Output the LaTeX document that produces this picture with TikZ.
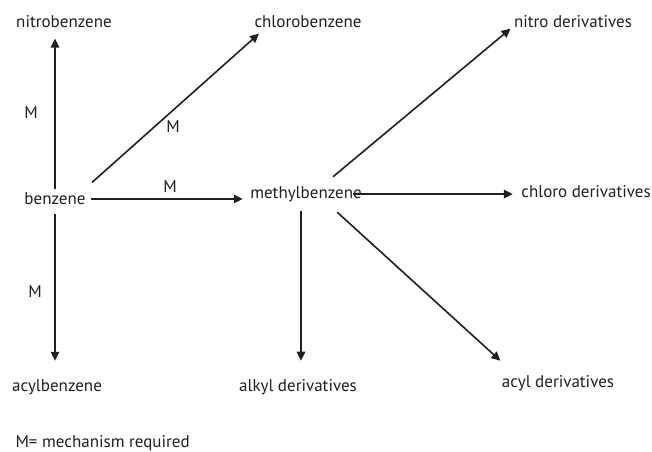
\documentclass[tikz,border=0pt]{standalone}
\usepackage{fontspec}
\setmainfont{PT Sans}
\usetikzlibrary{arrows.meta}
\definecolor{ink}{HTML}{231F20}
\begin{document}
\begin{tikzpicture}[x=1pt,y=-1pt,
        every node/.style={text=ink,font=\fontsize{17}{20}\selectfont},
        arr/.style={draw=ink,line width=1.6pt,-{Triangle[length=9pt,width=8.5pt]}}]
        \useasboundingbox (0,0) rectangle (652,451);

        \node (nitro) at (64,22) {nitrobenzene};
        \node (chloro) at (308,22) {chlorobenzene};
        \node (nitroder) at (573,22) {nitro derivatives};
        \node (benz) at (55,199) {benzene};
        \node (methyl) at (306,194) {methylbenzene};
        \node (chloroder) at (586,192) {chloro derivatives};
        \node (acyl) at (57,387) {acylbenzene};
        \node (alkyl) at (298,387) {alkyl derivatives};
        \node (acylder) at (558,383) {acyl derivatives};

        \node (m1) at (31,113) {M};
        \node (m2) at (173,127) {M};
        \node (m3) at (170,187) {M};
        \node (m4) at (35,292) {M};
        \node[anchor=west] (legend) at (12,443) {M= mechanism required};

        \draw[arr] (benz.north) -- ([yshift=-7pt]benz.north |- nitro.south);
        \draw[arr,shorten <=5pt] (benz.south) -- ([yshift=15pt]benz.south |- acyl.north);
        \draw[arr] ([xshift=2pt]benz.east) -- ([xshift=-4pt]benz.east -| methyl.west);
        \draw[arr] ([xshift=3pt,yshift=7pt]benz.north east) -- ([xshift=8pt,yshift=-2pt]chloro.south west);

        \draw[arr] ([xshift=27pt,yshift=6pt]methyl.north) -- ([yshift=3pt]nitroder.south west);
        \draw[arr] ([xshift=-12pt]methyl.east) -- ([xshift=-5pt]methyl.east -| chloroder.west);
        \draw[arr] ([xshift=-5pt,yshift=-6pt]methyl.south) -- ([xshift=3pt,yshift=15pt]alkyl.north);
        \draw[arr] ([xshift=-28pt,yshift=-7pt]methyl.south east) -- ([xshift=2pt,yshift=11pt]acylder.north west);
\end{tikzpicture}
\end{document}
